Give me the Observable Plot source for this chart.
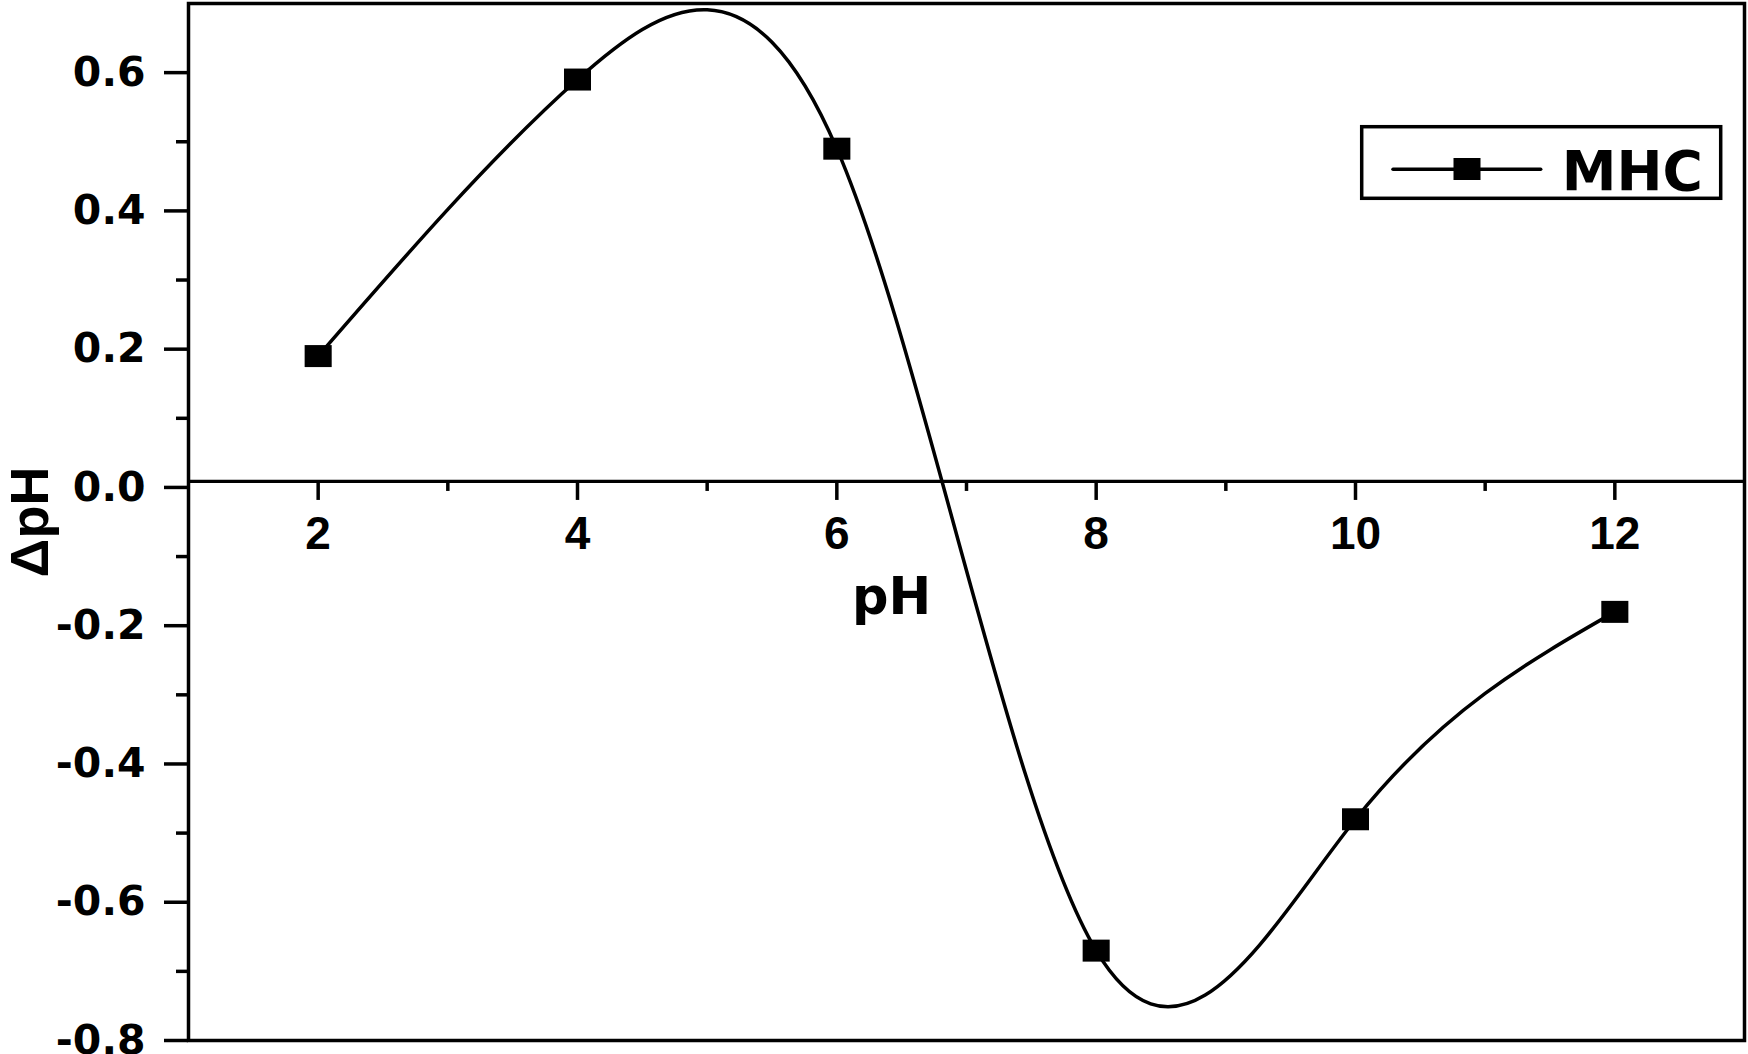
<!DOCTYPE html>
<html><head><meta charset="utf-8">
<script src="https://cdn.jsdelivr.net/npm/d3@7"></script>
<script src="https://cdn.jsdelivr.net/npm/@observablehq/plot@0.6"></script>
<style>
html,body{margin:0;padding:0;background:#fff;}
#wrap{position:relative;width:1748px;height:1054px;}
</style></head><body><div id="wrap"></div>
<script>
// ---- data ----
const pH = [2, 4, 6, 8, 10, 12];
const deltaPH = [0.19, 0.59, 0.49, -0.67, -0.48, -0.18];
const seriesName = "MHC";
const xMajorTicks = [2, 4, 6, 8, 10, 12];
const xMinorTicks = [3, 5, 7, 9, 11];
const yMajorTicks = [-0.8, -0.6, -0.4, -0.2, 0, 0.2, 0.4, 0.6];
const yMinorTicks = [-0.7, -0.5, -0.3, -0.1, 0.1, 0.3, 0.5];
const xLabel = "pH";
const yLabel = "ΔpH";

const data = pH.map((x, i) => ({x, y: deltaPH[i]}));
const wideSquare = {draw(ctx, size) {
  const r = Math.sqrt(size / Math.PI), w = r * 1.23;
  ctx.moveTo(-w, -r); ctx.lineTo(w, -r); ctx.lineTo(w, r); ctx.lineTo(-w, r); ctx.closePath();
}};
const AXIS_DY = -6;
const bold = "bold";

const plot = Plot.plot({
  width: 1748, height: 1054,
  marginLeft: 188, marginRight: 4, marginTop: 3, marginBottom: 14,
  style: {background: "white", fontWeight: "bold", color: "black"},
  x: {domain: [1, 13], axis: null},
  y: {domain: [-0.8, 0.7]},
  marks: [
    Plot.frame({strokeWidth: 3.5}),
    Plot.axisY(yMajorTicks, {tickSize: 24, tickPadding: 19, strokeWidth: 3.5, fontSize: 41,
      fontFamily: "DejaVu Sans", fontWeight: bold, tickFormat: d => d.toFixed(1), label: null}),
    Plot.axisY(yMinorTicks, {tickSize: 12, strokeWidth: 3.5, tickFormat: () => "", label: null}),
    Plot.ruleY([0], {strokeWidth: 3.3, dy: AXIS_DY}),
    Plot.ruleX(xMajorTicks, {x: d => d, y1: () => 0, y2: () => 0, insetBottom: -19, dy: AXIS_DY, strokeWidth: 3.5}),
    Plot.ruleX(xMinorTicks, {x: d => d, y1: () => 0, y2: () => 0, insetBottom: -10, dy: AXIS_DY, strokeWidth: 3.5}),
    Plot.text(xMajorTicks, {x: d => d, y: () => 0, text: d => String(d), dy: 47, lineAnchor: "middle",
      fontSize: 46, fontFamily: "Liberation Sans", fontWeight: bold}),
    Plot.text([xLabel], {text: d => d, frameAnchor: "top-left", dx: 703, dy: 610, lineAnchor: "bottom",
      textAnchor: "middle", fontSize: 51, fontFamily: "DejaVu Sans", fontWeight: bold}),
    Plot.text([yLabel], {text: d => d, frameAnchor: "left", rotate: -90, dx: -141, lineAnchor: "bottom",
      textAnchor: "middle", fontSize: 54, fontFamily: "Liberation Sans", fontWeight: bold}),
    Plot.line(data, {x: "x", y: "y", curve: "natural", stroke: "black", strokeWidth: 3.5}),
    Plot.dot(data, {x: "x", y: "y", symbol: wideSquare, r: 11, fill: "black", stroke: "none"})
  ]
});
document.getElementById("wrap").appendChild(plot);

// ---- legend (inside plot area, top-right) ----
const g = d3.select(plot).append("g");
g.append("rect").attr("x", 1361.7).attr("y", 126.7).attr("width", 359).attr("height", 71.6)
  .attr("fill", "white").attr("stroke", "black").attr("stroke-width", 3.5);
g.append("line").attr("x1", 1393).attr("x2", 1540.7).attr("y1", 169.3).attr("y2", 169.3)
  .attr("stroke", "black").attr("stroke-width", 3.5).attr("stroke-linecap", "round");
g.append("rect").attr("x", 1467 - 13.5).attr("y", 169 - 11).attr("width", 27).attr("height", 22).attr("fill", "black");
g.append("text").attr("x", 1561.7).attr("y", 190).attr("text-anchor", "start")
  .attr("font-family", "DejaVu Sans").attr("font-weight", "bold")
  .attr("font-size", 55).attr("fill", "black").text(seriesName);
</script>
</body></html>
